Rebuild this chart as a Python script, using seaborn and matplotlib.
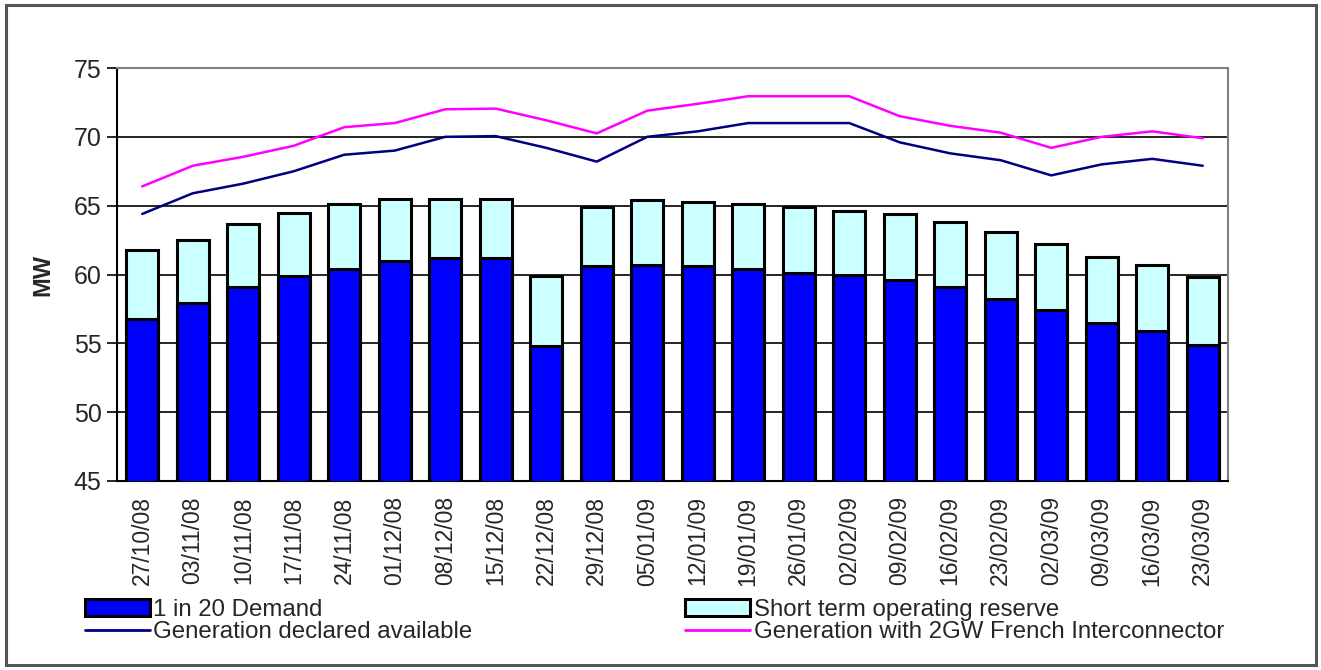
import numpy as np
import pandas as pd
import seaborn as sns
import matplotlib
matplotlib.use("Agg")
import matplotlib.pyplot as plt
from matplotlib.patches import Patch, Rectangle
from matplotlib.lines import Line2D

# data
weeks = ['27/10/08', '03/11/08', '10/11/08', '17/11/08', '24/11/08', '01/12/08',
         '08/12/08', '15/12/08', '22/12/08', '29/12/08', '05/01/09', '12/01/09',
         '19/01/09', '26/01/09', '02/02/09', '09/02/09', '16/02/09', '23/02/09',
         '02/03/09', '09/03/09', '16/03/09', '23/03/09']
demand = [56.8, 57.9, 59.1, 59.9, 60.4, 61.0, 61.2, 61.2, 54.8, 60.6, 60.7,
          60.6, 60.4, 60.1, 60.0, 59.6, 59.1, 58.2, 57.4, 56.5, 55.9, 54.9]
reserve = [5.0, 4.6, 4.6, 4.6, 4.7, 4.5, 4.3, 4.3, 5.1, 4.3, 4.7,
           4.65, 4.7, 4.8, 4.6, 4.8, 4.7, 4.9, 4.8, 4.8, 4.8, 4.95]
declared = [64.4, 65.9, 66.6, 67.5, 68.7, 69.0, 70.0, 70.05, 69.2, 68.2, 70.0,
            70.4, 71.0, 71.0, 71.0, 69.6, 68.8, 68.3, 67.2, 68.0, 68.4, 67.9]
french = [66.4, 67.9, 68.55, 69.35, 70.7, 71.0, 72.0, 72.05, 71.2, 70.25, 71.9,
          72.4, 72.95, 72.95, 72.95, 71.5, 70.8, 70.3, 69.2, 70.0, 70.4, 69.9]

df = pd.DataFrame({'week': weeks, 'demand': demand, 'reserve': reserve,
                   'declared': declared, 'french': french})
df['total'] = df['demand'] + df['reserve']

sns.set_style('white')
plt.rcParams['font.family'] = ['Liberation Sans', 'DejaVu Sans']

fig = plt.figure(figsize=(13.21, 6.70), dpi=100)
ax = fig.add_axes([117 / 1321, 189 / 670, 1111 / 1321, 413 / 670])

# stacked bars: total (reserve colour) behind, demand in front
sns.barplot(data=df, x='week', y='total', color='#CCFFFF', width=0.64,
            edgecolor='black', linewidth=2.2, saturation=1, ax=ax, zorder=2)
sns.barplot(data=df, x='week', y='demand', color='#0000FF', width=0.64,
            edgecolor='black', linewidth=2.2, saturation=1, ax=ax, zorder=3)

x = np.arange(len(df))
sns.lineplot(x=x, y=df['declared'], color='#000080', linewidth=1.8, ax=ax, zorder=4)
sns.lineplot(x=x, y=df['french'], color='#FF00FF', linewidth=1.8, ax=ax, zorder=4)

ax.set_ylim(45, 75)
ax.set_xlim(-0.5, len(df) - 0.5)
ax.set_yticks(range(45, 76, 5))
ax.yaxis.grid(True, color='black', linewidth=1.2)
ax.set_axisbelow(True)
ax.tick_params(axis='y', labelsize=18, length=7, width=1.2, color='black',
               left=True, pad=4)
ax.tick_params(axis='x', labelsize=16.5, rotation=90, length=0, pad=11)
ax.set_xlabel('')
ax.set_ylabel('MW', fontsize=17, fontweight='bold', labelpad=14)
for side in ['left', 'bottom']:
    ax.spines[side].set_color('black')
    ax.spines[side].set_linewidth(1.5)
for side in ['top', 'right']:
    ax.spines[side].set_color('#808080')
    ax.spines[side].set_linewidth(1.5)

handles = [
    Patch(facecolor='#0000FF', edgecolor='black', linewidth=2.2),
    Line2D([], [], color='#000080', linewidth=2),
    Patch(facecolor='#CCFFFF', edgecolor='black', linewidth=2.2),
    Line2D([], [], color='#FF00FF', linewidth=2),
]
labels = ['1 in 20 Demand', 'Generation declared available',
          'Short term operating reserve', 'Generation with 2GW French Interconnector']
fig.legend(handles, labels, ncol=2, loc='upper left',
           bbox_to_anchor=(85 / 1321, 1 - 599 / 670), frameon=False,
           fontsize=17.3, borderpad=0, borderaxespad=0, labelspacing=0.0,
           handlelength=2.7, handleheight=0.72, handletextpad=0.15,
           columnspacing=8.85)

# outer frame around the whole chart
fig.patches.append(Rectangle((6 / 1321, 5 / 670), 1310 / 1321, 660 / 670,
                             transform=fig.transFigure, fill=False,
                             edgecolor='#555555', linewidth=2.2))

fig.savefig('out.png', dpi=100)
